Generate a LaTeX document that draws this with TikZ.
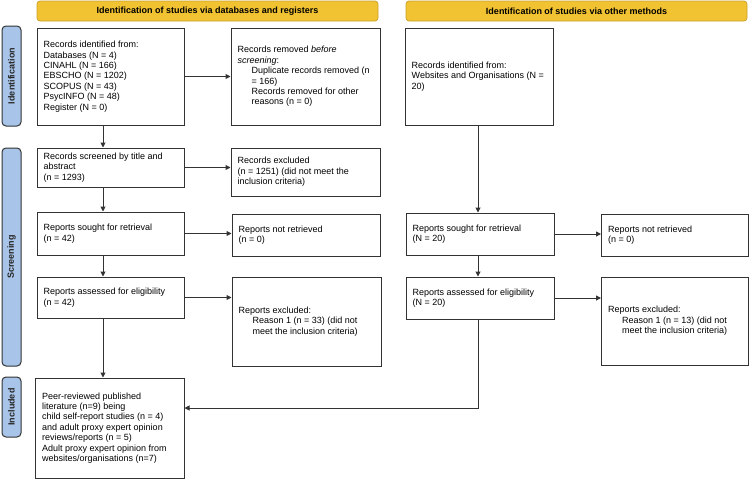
\documentclass[tikz,border=0pt]{standalone}
\usepackage{fontspec}
\setmainfont{Liberation Sans}
\usetikzlibrary{arrows.meta,calc}
\definecolor{gold}{HTML}{F1C232}
\definecolor{goldline}{HTML}{C9A028}
\definecolor{sideblue}{HTML}{A8C4E8}
\definecolor{linegray}{HTML}{333333}
\begin{document}
\begin{tikzpicture}[x=1pt,y=-1pt,
  every node/.style={font=\fontsize{9}{10.4}\selectfont},
  banner/.style={draw=goldline,line width=0.7pt,fill=gold,rounded corners=3pt,
    minimum width=341pt,minimum height=20pt,inner sep=0pt,font=\fontsize{9}{10.4}\selectfont\bfseries},
  sidelab/.style={draw=linegray,line width=1pt,fill=sideblue,rounded corners=4pt,
    minimum width=19pt,inner sep=0pt},
  sidetext/.style={rotate=90,font=\fontsize{9}{10.4}\selectfont\bfseries,text=black!85},
  stagebox/.style 2 args={draw=linegray,line width=1pt,fill=white,
    minimum width=#1pt,minimum height=#2pt,inner sep=0pt},
  stagetext/.style={anchor=west,align=left,inner sep=0pt},
  arr/.style={draw=linegray,line width=1pt,-{Triangle[length=5pt,width=5pt]}}
]
\useasboundingbox (0,0) rectangle (750,479);

% banners
\node[banner] (ban1) at (207.5,11) {Identification of studies via databases and registers};
\node[banner] (ban2) at (576.5,11) {Identification of studies via other methods};

% side labels
\node[sidelab,minimum height=100pt] (sid1) at (11.5,76) {};
\node[sidetext] (sid1t) at (sid1.center) {Identification};
\node[sidelab,minimum height=218pt] (sid2) at (11.5,257) {};
\node[sidetext] (sid2t) at (sid2.center) {Screening};
\node[sidelab,minimum height=60pt] (sid3) at (11.5,407) {};
\node[sidetext] (sid3t) at (sid3.center) {Included};

% left column
\node[stagebox={147}{97}] (id) at (110.5,76.5) {};
\node[stagetext] (idt) at ([xshift=7pt]id.west) {Records identified from:\\Databases (N = 4)\\CINAHL (N = 166)\\EBSCHO (N = 1202)\\SCOPUS (N = 43)\\PsycINFO (N = 48)\\Register (N = 0)};
\node[stagebox={149}{97}] (rem) at (305.5,76.5) {};
\node[stagetext] (remt) at ([xshift=7pt]rem.west) {Records removed \textit{before}\\\textit{screening}:\\\hspace*{14pt}Duplicate records removed (n\\\hspace*{14pt}= 166)\\\hspace*{14pt}Records removed for other\\\hspace*{14pt}reasons (n = 0)};
\node[stagebox={147}{39}] (scr) at (110.5,167.5) {};
\node[stagetext] (scrt) at ([xshift=7pt]scr.west) {Records screened by title and\\abstract\\(n = 1293)};
\node[stagebox={149}{48}] (exc) at (305.5,172) {};
\node[stagetext] (exct) at ([xshift=7pt]exc.west) {Records excluded\\(n = 1251) (did not meet the\\inclusion criteria)};
\node[stagebox={147}{43}] (sou) at (110.5,233.5) {};
\node[stagetext] (sout) at ([xshift=7pt]sou.west) {Reports sought for retrieval\\(n = 42)};
\node[stagebox={148}{42}] (nret) at (306,235) {};
\node[stagetext] (nrett) at ([xshift=7pt]nret.west) {Reports not retrieved\\(n = 0)};
\node[stagebox={147}{41}] (ass) at (110.5,297.5) {};
\node[stagetext] (asst) at ([xshift=7pt]ass.west) {Reports assessed for eligibility\\(n = 42)};
\node[stagebox={149}{89}] (rex) at (306.5,321.5) {};
\node[stagetext] (rext) at ([xshift=7pt]rex.west) {Reports excluded:\\\hspace*{14pt}Reason 1 (n = 33) (did not\\\hspace*{14pt}meet the inclusion criteria)};
\node[stagebox={149}{100}] (inc) at (109.5,428) {};
\node[stagetext] (inct) at ([xshift=7.5pt]inc.west) {Peer-reviewed published\\literature (n=9) being\\child self-report studies (n = 4)\\and adult proxy expert opinion\\reviews/reports (n = 5)\\Adult proxy expert opinion from\\websites/organisations (n=7)};

% right column
\node[stagebox={148}{97}] (oid) at (479,76.5) {};
\node[stagetext] (oidt) at ([xshift=7pt]oid.west) {Records identified from:\\Websites and Organisations (N =\\20)};
\node[stagebox={148}{42}] (osou) at (480,234) {};
\node[stagetext] (osout) at ([xshift=7pt]osou.west) {Reports sought for retrieval\\(N = 20)};
\node[stagebox={147}{42}] (onret) at (675,235) {};
\node[stagetext] (onrett) at ([xshift=7pt]onret.west) {Reports not retrieved\\(n = 0)};
\node[stagebox={148}{42}] (oass) at (480,298) {};
\node[stagetext] (oasst) at ([xshift=7pt]oass.west) {Reports assessed for eligibility\\(N = 20)};
\node[stagebox={147}{88}] (orex) at (675,321) {};
\node[stagetext] (orext) at ([xshift=7pt]orex.west) {Reports excluded:\\\hspace*{14pt}Reason 1 (n = 13) (did not\\\hspace*{14pt}meet the inclusion criteria)};

% connectors left
\draw[arr] (id.east) -- (id.east -| rem.west);
\draw[arr] ([xshift=-7.5pt]id.south) -- ([xshift=-7.5pt]id.south |- scr.north);
\draw[arr] (scr.east) -- (scr.east -| exc.west);
\draw[arr] ([xshift=-7.5pt]scr.south) -- ([xshift=-7.5pt]scr.south |- sou.north);
\draw[arr] (sou.east) -- (sou.east -| nret.west);
\draw[arr] ([xshift=-7.5pt]sou.south) -- ([xshift=-7.5pt]sou.south |- ass.north);
\draw[arr] (ass.east) -- (ass.east -| rex.west);
\draw[arr] ([xshift=-7.5pt]ass.south) -- ([xshift=-7.5pt]ass.south |- inc.north);

% connectors right
\draw[arr] ([xshift=-1pt]oid.south) -- ([xshift=-1pt]oid.south |- osou.north);
\draw[arr] (osou.east) -- (osou.east -| onret.west);
\draw[arr] ([xshift=-2pt]osou.south) -- ([xshift=-2pt]osou.south |- oass.north);
\draw[arr] (oass.east) -- (oass.east -| orex.west);
\coordinate (incin) at ([yshift=20pt]inc.east);
\draw[arr] ([xshift=-2pt]oass.south) |- (incin);
\end{tikzpicture}
\end{document}
